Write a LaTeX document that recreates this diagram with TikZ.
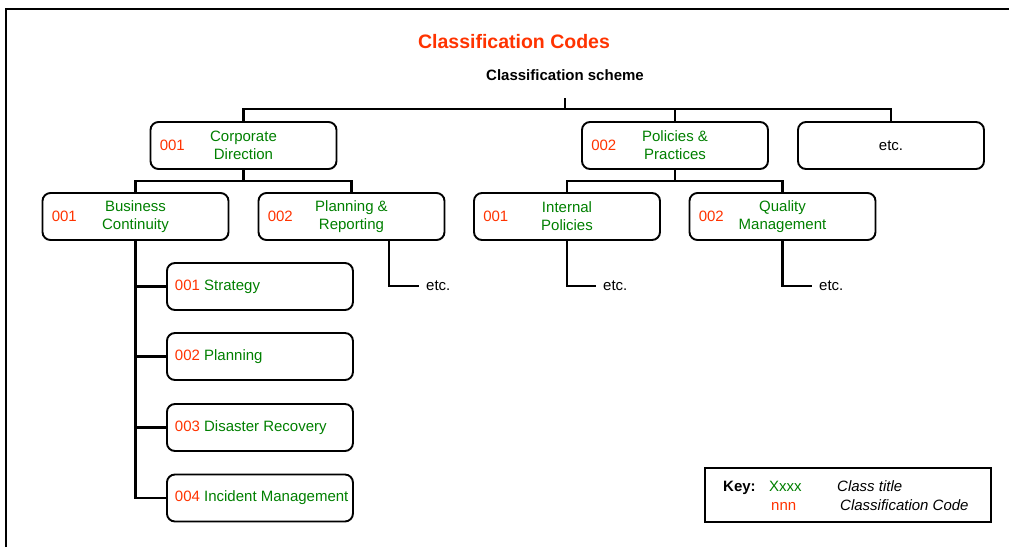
\documentclass[tikz,border=0pt]{standalone}
\usepackage{fontspec}
\setmainfont{Liberation Sans}
\definecolor{codered}{RGB}{255,51,0}
\definecolor{titlegreen}{RGB}{0,128,0}
\newcommand{\fsz}{\fontsize{15}{18}\selectfont}
\tikzset{
  box/.style={draw, line width=1.9pt, rounded corners=8pt, minimum width=186pt, minimum height=47pt, inner sep=0pt, align=center, text=titlegreen},
  code/.style={anchor=west, inner sep=0pt, text=codered},
  conn/.style={line width=2.3pt},
  subbox/.style={draw, line width=1.9pt, rounded corners=8pt, minimum width=186pt, minimum height=47pt, inner xsep=8pt, inner ysep=0pt, anchor=west},
  etcnode/.style={anchor=west, inner xsep=7pt, inner ysep=0pt},
  keytext/.style={anchor=base west, inner sep=0pt},
}
\newcommand{\cc}[1]{\textcolor{codered}{#1}}
\newcommand{\ct}[1]{\textcolor{titlegreen}{#1}}
\begin{document}
\begin{tikzpicture}[x=1pt,y=-1pt,font=\fsz]
\useasboundingbox (0,0) rectangle (1009,547);
\fill[white] (0,0) rectangle (1009,547);
% frame
\draw[line width=2.3pt] (6,547) -- (6,9) -- (1009,9);
% title
\node[font=\bfseries\fontsize{19.5}{22}\selectfont, text=codered, inner sep=0pt] (title) at (514,42) {Classification Codes};
\node[font=\fsz\bfseries, minimum height=46pt, inner sep=0pt] (scheme) at (565,75) {Classification scheme};
% level 1
\node[box] (cd) at (243.5,145.5) {Corporate\\Direction};
\node[box] (pp) at (675,145.5) {Policies \&\\Practices};
\node[box, text=black] (etcb) at (891,145.5) {etc.};
\node[code] (cdc) at ([xshift=10pt]cd.west) {001};
\node[code] (ppc) at ([xshift=10pt]pp.west) {002};
% level 2
\node[box] (bc) at (135.5,216.5) {Business\\Continuity};
\node[box] (pr) at (351.5,216.5) {Planning \&\\Reporting};
\node[box] (ip) at (567,216.5) {Internal\\Policies};
\node[box] (qm) at (782.5,216.5) {Quality\\Management};
\node[code] (bcc) at ([xshift=10pt]bc.west) {001};
\node[code] (prc) at ([xshift=10pt]pr.west) {002};
\node[code] (ipc) at ([xshift=10pt]ip.west) {001};
\node[code] (qmc) at ([xshift=10pt]qm.west) {002};
% level 3
\node[subbox] (s1) at (166,286.5) {\makebox[170pt][l]{\cc{001} \ct{Strategy}}};
\node[subbox] (s2) at (166,356.5) {\makebox[170pt][l]{\cc{002} \ct{Planning}}};
\node[subbox] (s3) at (166,427.5) {\makebox[170pt][l]{\cc{003} \ct{Disaster Recovery}}};
\node[subbox] (s4) at (166,498) {\makebox[170pt][l]{\cc{004} \ct{Incident Management}}};
% etc nodes
\node[etcnode] (e1) at (419,286) {etc.};
\node[etcnode] (e2) at (596,286) {etc.};
\node[etcnode] (e3) at (812,286) {etc.};
% connectors
\coordinate (h0) at (565,109);
\draw[conn] (scheme.south) -- (h0);
\draw[conn] (cd.north) |- (h0) -| (etcb.north);
\draw[conn] (pp.north) -- (pp.north |- h0);
\coordinate (h1) at (243.5,181);
\draw[conn] (cd.south) -- (h1);
\draw[conn] (bc.north) |- (h1) -| (pr.north);
\coordinate (h2) at (675,181);
\draw[conn] (pp.south) -- (h2);
\draw[conn] (ip.north) |- (h2) -| (qm.north);
\draw[conn] (bc.south) |- (s4.west);
\foreach \i in {1,2,3} {\draw[conn] (bc.south |- s\i.west) -- (s\i.west);}
\draw[conn] ([xshift=37.5pt]pr.south) |- (e1.west);
\draw[conn] (ip.south) |- (e2.west);
\draw[conn] (qm.south) |- (e3.west);
% key
\node[draw, line width=1.9pt, minimum width=286pt, minimum height=54pt, inner sep=0pt] (key) at (848,495) {};
\node[keytext, font=\fsz\bfseries] (k1) at (723,491.5) {Key:};
\node[keytext, text=titlegreen] (k2) at (769,491.5) {Xxxx};
\node[keytext, font=\fsz\itshape] (k3) at (837,491.5) {Class title};
\node[keytext, text=codered] (k4) at (771,510.5) {nnn};
\node[keytext, font=\fsz\itshape] (k5) at (840,510.5) {Classification Code};
\end{tikzpicture}
\end{document}
